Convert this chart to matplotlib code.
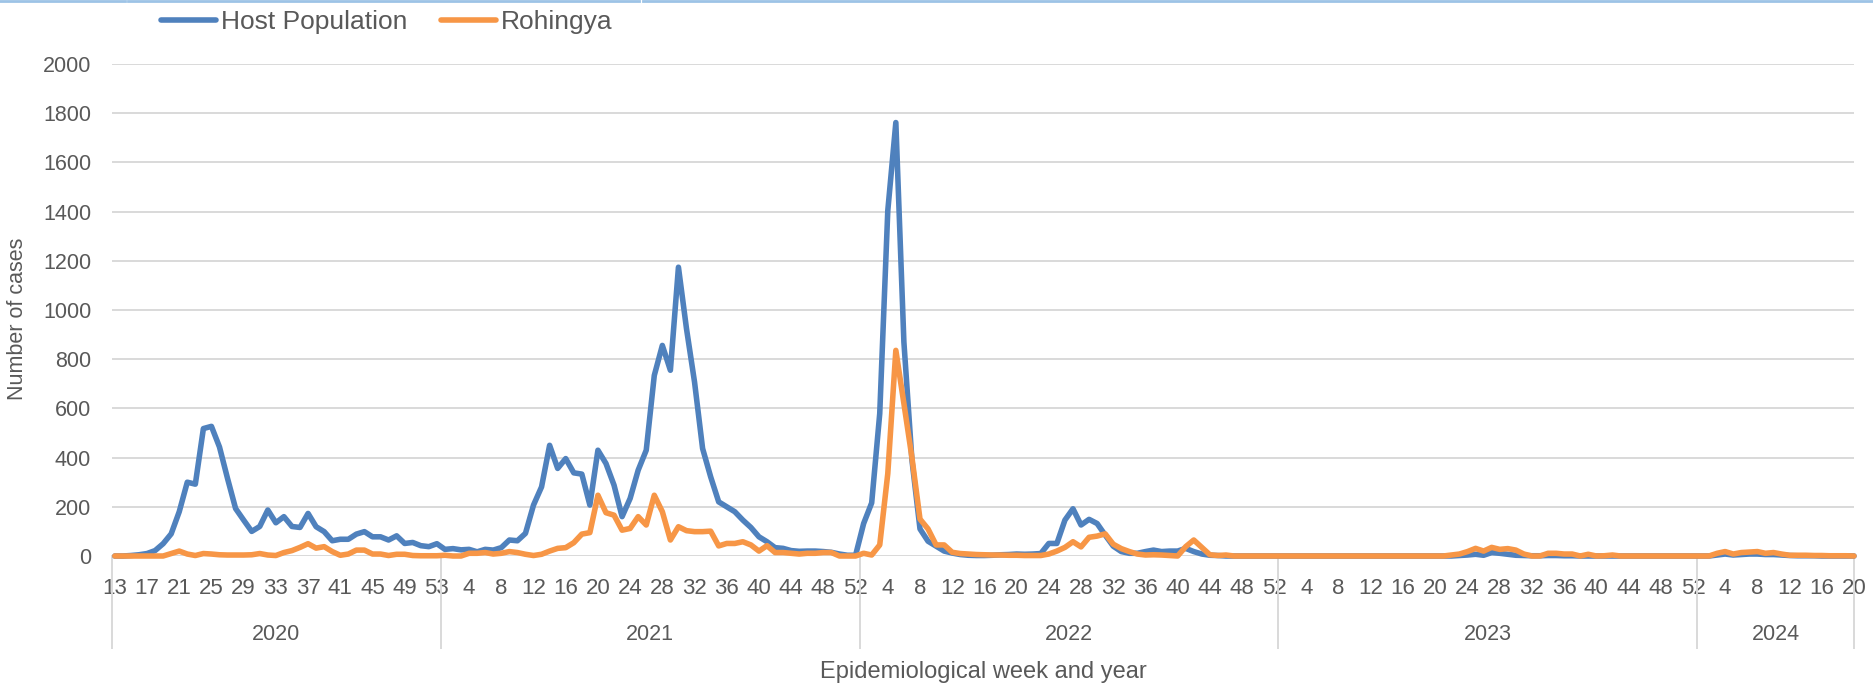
import numpy as np
import matplotlib
matplotlib.use("Agg")
import matplotlib.pyplot as plt
import matplotlib.transforms as mtransforms
from matplotlib.lines import Line2D

plt.rcParams['font.family'] = ['Liberation Sans', 'DejaVu Sans']

# epidemiological weeks per year
years = [2020, 2021, 2022, 2023, 2024]
weeks_2020 = list(range(13, 54))
weeks_2021 = list(range(1, 53))
weeks_2022 = list(range(1, 53))
weeks_2023 = list(range(1, 53))
weeks_2024 = list(range(1, 21))

# weekly cases, host population
host_2020 = [0, 0, 2, 5, 10, 22, 50, 90, 180, 300, 292, 518, 527, 443, 315, 193, 146, 100, 120, 187,
             135, 160, 120, 116, 173, 119, 99, 62, 68, 68, 89, 99, 78, 78, 65, 82, 51, 55, 42, 38, 50]
host_2021 = [27, 30, 25, 27, 17, 27, 24, 34, 65, 62, 92, 207, 281, 450, 356, 396, 338, 333, 207, 430,
             376, 288, 160, 234, 349, 430, 734, 856, 755, 1174, 924, 707, 437, 322, 220, 200, 180, 146, 116, 78,
             58, 34, 31, 22, 19, 20, 20, 18, 15, 8, 3, 3]
host_2022 = [132, 216, 579, 1404, 1762, 870, 390, 110, 60, 40, 20, 12, 6, 3, 2, 2, 3, 5, 6, 8,
             7, 8, 10, 51, 51, 146, 192, 126, 149, 132, 85, 40, 18, 11, 11, 18, 24, 18, 20, 20,
             31, 18, 8, 3, 2, 0, 0, 0, 0, 0, 0, 0]
host_2023 = [0, 0, 0, 0, 0, 0, 0, 0, 0, 0, 0, 0, 0, 0, 0, 0, 0, 0, 0, 0,
             0, 0, 2, 4, 7, 3, 14, 11, 7, 3, 2, 1, 1, 2, 2, 1, 1, 0, 0, 0,
             0, 0, 0, 0, 0, 0, 0, 0, 0, 0, 0, 0]
host_2024 = [0, 0, 4, 8, 4, 6, 8, 8, 6, 6, 4, 2, 1, 1, 1, 0, 0, 0, 0, 0]

# weekly cases, Rohingya
roh_2020 = [0, 0, 0, 0, 0, 0, 0, 10, 20, 8, 2, 10, 8, 5, 4, 4, 4, 5, 10, 4,
            2, 14, 22, 35, 50, 32, 38, 18, 3, 8, 24, 24, 8, 8, 2, 7, 7, 2, 1, 1, 1]
roh_2021 = [3, 0, 0, 11, 11, 14, 8, 11, 18, 14, 7, 2, 7, 20, 31, 34, 54, 89, 95, 247,
            176, 166, 105, 112, 160, 126, 247, 180, 65, 119, 103, 99, 99, 101, 41, 51, 51, 58, 45, 20,
            42, 14, 14, 11, 8, 11, 11, 14, 14, 0, 0, 0]
roh_2022 = [11, 4, 45, 335, 836, 620, 400, 150, 110, 45, 45, 15, 10, 8, 6, 5, 4, 4, 3, 3,
            2, 2, 2, 8, 20, 35, 58, 37, 76, 81, 90, 48, 30, 18, 8, 4, 5, 4, 2, 0,
            38, 65, 35, 5, 2, 4, 0, 0, 0, 0, 0, 0]
roh_2023 = [0, 0, 0, 0, 0, 0, 0, 0, 0, 0, 0, 0, 0, 0, 0, 0, 0, 0, 0, 0,
            0, 4, 8, 18, 31, 20, 35, 27, 30, 24, 8, 0, 0, 11, 11, 8, 8, 0, 7, 0,
            1, 4, 0, 0, 0, 0, 0, 0, 0, 0, 0, 0]
roh_2024 = [0, 0, 11, 18, 8, 14, 16, 18, 11, 14, 8, 3, 3, 3, 2, 2, 1, 1, 1, 0]

week_lists = [weeks_2020, weeks_2021, weeks_2022, weeks_2023, weeks_2024]
weeks = sum(week_lists, [])
host = host_2020 + host_2021 + host_2022 + host_2023 + host_2024
roh = roh_2020 + roh_2021 + roh_2022 + roh_2023 + roh_2024
x = np.arange(len(weeks))

blue = '#4f81bd'
orange = '#f79646'
grey = '#d9d9d9'
txt = '#595959'

W, H = 1874, 692
fig = plt.figure(figsize=(W / 100, H / 100), dpi=100)
ax = fig.add_axes([112 / W, 136 / H, (1854 - 112) / W, 492 / H])

ax.plot(x, host, color=blue, lw=4.0, solid_joinstyle='round', solid_capstyle='round',
        label='Host Population', clip_on=False, zorder=3)
ax.plot(x, roh, color=orange, lw=4.0, solid_joinstyle='round', solid_capstyle='round',
        label='Rohingya', clip_on=False, zorder=4)

ax.set_xlim(-0.35, len(x) - 1)
ax.set_ylim(0, 2000)
ax.set_yticks(range(0, 2001, 200))
ax.grid(axis='y', color=grey, lw=1.4)
ax.set_axisbelow(True)
for s in ax.spines.values():
    s.set_visible(False)

ax.set_xticks(x[::4])
ax.set_xticklabels([str(w) for w in weeks[::4]])
ax.tick_params(axis='x', length=0, pad=16, labelsize=16, labelcolor=txt)
ax.tick_params(axis='y', length=0, pad=15, labelsize=15.5, labelcolor=txt)

# year level of the category axis
trans = mtransforms.blended_transform_factory(ax.transData, ax.transAxes)
bounds = [-0.35]
start = 0
for wl in week_lists:
    start += len(wl)
    bounds.append(start - 0.5)
bounds[-1] = len(x) - 1
for b in bounds:
    ax.add_line(Line2D([b, b], [0, -92 / 492], transform=trans, color=grey, lw=1.4, clip_on=False))
for yr, a, b in zip(years, bounds[:-1], bounds[1:]):
    ax.text((a + b) / 2, -78 / 492, str(yr), transform=trans, ha='center', va='center',
            fontsize=15.5, color=txt)

fig.text((112 + 1854) / 2 / W, 20 / H, 'Epidemiological week and year', ha='center', va='center',
         fontsize=17, color=txt)
fig.text(18 / W, 1 - 319 / H, 'Number of cases', rotation=90, ha='center', va='center',
         fontsize=15.5, color=txt)

fig.legend(loc='center left', bbox_to_anchor=(161 / W, 1 - 22 / H), ncol=2, frameon=False,
           fontsize=19, handlelength=2.1, handletextpad=0.18, columnspacing=1.25,
           borderpad=0, borderaxespad=0, labelcolor=txt)

# thin light-blue strip along the top edge
for a, b in [(0, 125), (128, 639), (643, W)]:
    fig.add_artist(Line2D([a / W, b / W], [1 - 1.2 / H, 1 - 1.2 / H], transform=fig.transFigure,
                          color='#9dc3e6', lw=2.0))

fig.savefig('out.png', dpi=100)
